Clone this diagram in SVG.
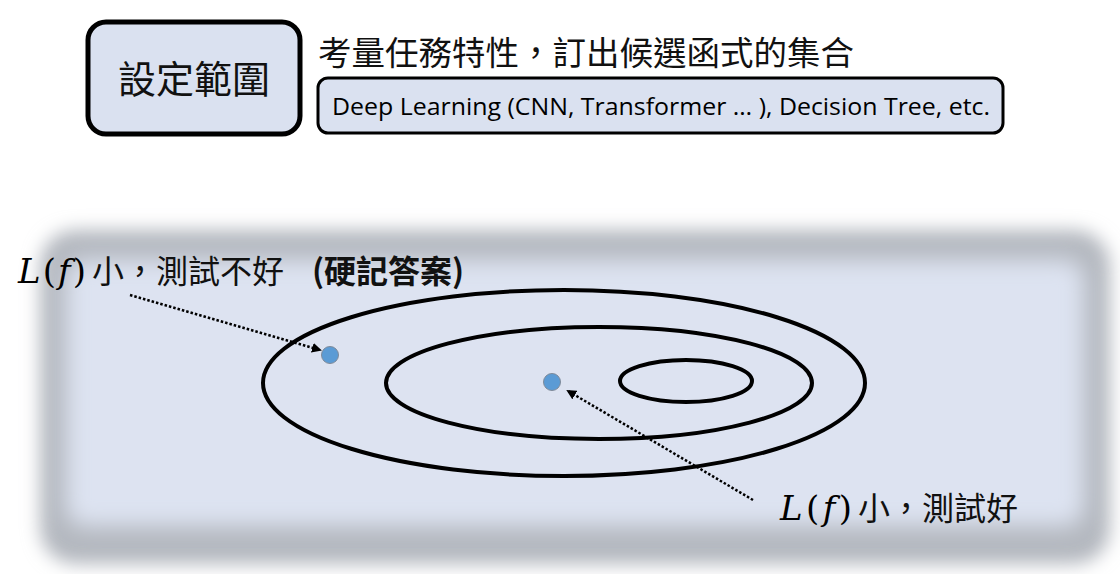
<svg xmlns="http://www.w3.org/2000/svg" width="1120" height="574" viewBox="0 0 1120 574">
<style>
.cjk{font-family:"Noto Sans CJK TC","Noto Sans CJK SC",sans-serif;fill:#111}
.math{font-family:"DejaVu Serif","Liberation Serif",serif;font-style:italic;fill:#000}
.par{font-family:"DejaVu Serif","Liberation Serif",serif;fill:#000}
.ell{fill:none;stroke:#000;stroke-width:4}
.dot{fill:#5b9bd5;stroke:#7f8a99;stroke-width:1}
.arr{fill:none;stroke:#000;stroke-width:2.5;stroke-dasharray:2.5 2}
</style>
<defs>
<filter id="soft" x="-10%" y="-20%" width="120%" height="140%"><feGaussianBlur stdDeviation="9"/></filter>
<filter id="soft2" x="-10%" y="-20%" width="120%" height="140%"><feGaussianBlur stdDeviation="11"/></filter>
<marker id="ah" viewBox="0 0 10 10" refX="8" refY="5" markerWidth="4" markerHeight="4" orient="auto"><path d="M0,0 L10,5 L0,10 z" fill="#000"/></marker>
</defs>
<rect width="1120" height="574" fill="#fff"/>
<g id="space">
<rect x="40" y="230" width="1070" height="334" rx="36" fill="#b4b8bf" filter="url(#soft)"/>
<rect x="66" y="260" width="1018" height="266" rx="20" fill="#dde3f1" filter="url(#soft2)"/>
</g>
<g id="scope">
<rect x="88" y="22" width="212" height="112" rx="18" fill="#dae1f0" stroke="#000" stroke-width="5"/>
<text class="cjk" x="194" y="93" font-size="38" text-anchor="middle">設定範圍</text>
</g>
<g id="desc">
<text class="cjk" x="318" y="65" font-size="33.5">考量任務特性，訂出候選函式的集合</text>
<rect x="318" y="78" width="685" height="55" rx="10" fill="#dae1f0" stroke="#000" stroke-width="3"/>
<text x="332" y="115" font-size="23" font-family="Open Sans, Liberation Sans, sans-serif" fill="#000" textLength="658" lengthAdjust="spacingAndGlyphs">Deep Learning (CNN, Transformer … ), Decision Tree, etc.</text>
</g>
<g id="sets">
<ellipse class="ell" cx="564" cy="383" rx="301" ry="93"/>
<ellipse class="ell" cx="599" cy="383" rx="213" ry="56"/>
<ellipse class="ell" cx="686" cy="381" rx="66" ry="21"/>
</g>
<g id="dot1"><circle class="dot" cx="330" cy="355" r="8.5"/></g>
<g id="dot2"><circle class="dot" cx="552" cy="382" r="8.5"/></g>
<g id="connectors">
<line class="arr" x1="130" y1="295" x2="320" y2="350" marker-end="url(#ah)"/>
<line class="arr" x1="753" y1="500" x2="568" y2="391" marker-end="url(#ah)"/>
</g>
<g id="label1">
<text x="18" y="283" font-size="34" textLength="68" lengthAdjust="spacing"><tspan class="math">L</tspan><tspan class="par">(</tspan><tspan class="math">f</tspan><tspan class="par">)</tspan></text>
<text class="cjk" x="92" y="283" font-size="32">小，測試不好</text>
<text class="cjk" x="312" y="283" font-size="32" font-weight="bold">(硬記答案)</text>
</g>
<g id="label2">
<text x="780" y="520" font-size="34" textLength="72" lengthAdjust="spacing"><tspan class="math">L</tspan><tspan class="par">(</tspan><tspan class="math">f</tspan><tspan class="par">)</tspan></text>
<text class="cjk" x="858" y="520" font-size="32">小，測試好</text>
</g>
</svg>
